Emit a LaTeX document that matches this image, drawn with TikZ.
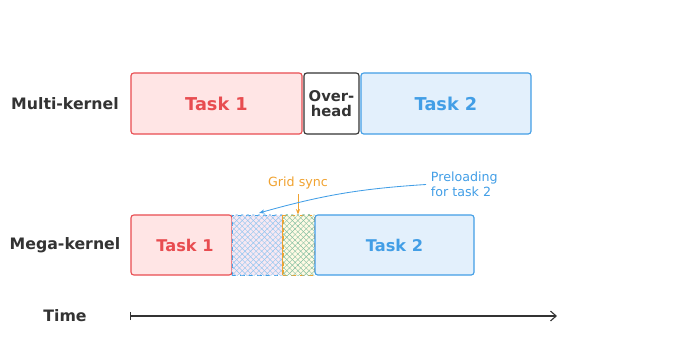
\documentclass[tikz,border=0pt]{standalone}
\usepackage{fontspec}
\setmainfont{DejaVu Sans}
\setsansfont{DejaVu Sans}
\usepackage{xcolor}
\usepackage{tikz}
\usetikzlibrary{arrows.meta, positioning, calc, patterns.meta}
\definecolor{taskred}{RGB}{232, 76, 80}
\definecolor{redfill}{RGB}{255, 229, 229}
\definecolor{taskblue}{RGB}{66, 158, 230}
\definecolor{bluefill}{RGB}{227, 240, 252}
\definecolor{darkgray}{RGB}{51, 51, 51}
\definecolor{syncorange}{RGB}{240, 162, 48}
\definecolor{hatchpink}{RGB}{248, 232, 242}
\definecolor{hatchyellow}{RGB}{255, 250, 228}
\definecolor{hatchgreen}{RGB}{130, 190, 160}

\begin{document}
\begin{tikzpicture}[
    x=0.025cm, y=-0.025cm,
    rowlabel/.style={
        font=\sffamily\bfseries\fontsize{11.2}{14}\selectfont,
        text=darkgray
    },
    box/.style={
        rectangle,
        rounded corners=2pt,
        line width=0.8pt,
        inner sep=0pt,
        align=center,
        font=\sffamily\bfseries\fontsize{12.6}{15}\selectfont
    },
    redbox/.style={
        box,
        draw=taskred,
        fill=redfill,
        text=taskred
    },
    bluebox/.style={
        box,
        draw=taskblue,
        fill=bluefill,
        text=taskblue
    },
    overbox/.style={
        box,
        draw=darkgray,
        fill=white,
        text=darkgray,
        font=\sffamily\bfseries\fontsize{10.5}{10.5}\selectfont
    },
    small/.style={
        font=\sffamily\bfseries\fontsize{11.5}{13}\selectfont
    },
    note/.style={
        font=\sffamily\fontsize{9}{10.5}\selectfont,
        align=left
    },
    arrow/.style={
        -{Stealth[length=4pt, width=3pt]},
        line width=0.6pt
    }
]
    \useasboundingbox (0,0) rectangle (680,357);

    % Row labels
    \node[rowlabel] (multi) at (65,104) {Multi-kernel};
    \node[rowlabel] (mega) at (65,245) {Mega-kernel};
    \node[rowlabel] (time) at (65,316) {Time};

    % Multi-kernel row
    \node[redbox, minimum width=4.275cm, minimum height=1.525cm] (mtask1) at (216.5,103.5) {Task 1};
    \node[overbox, minimum width=1.375cm, minimum height=1.525cm] (overhead) at (331.5,103.5) {Over-\\head};
    \node[bluebox, minimum width=4.25cm, minimum height=1.525cm] (mtask2) at (446,103.5) {Task 2};

    % Mega-kernel row
    \node[redbox, minimum width=2.525cm, minimum height=1.5cm] (gtask1) at (181.5,245) {};
    \node[small, text=taskred] (gtask1text) at (185,245) {Task 1};
    \node[rectangle, draw=taskblue, dashed, line width=0.6pt, fill=hatchpink,
          minimum width=1.275cm, minimum height=1.5cm] (preload) at (257.5,245) {};
    \fill[pattern={Lines[angle=45, distance=2.8pt, line width=0.3pt]}, pattern color=taskblue!60]
        (preload.south west) rectangle (preload.north east);
    \fill[pattern={Lines[angle=-45, distance=2.8pt, line width=0.3pt]}, pattern color=taskblue!60]
        (preload.south west) rectangle (preload.north east);
    \node[rectangle, draw=syncorange, dashed, line width=0.6pt, fill=hatchyellow,
          minimum width=0.775cm, minimum height=1.5cm] (sync) at (298.5,245) {};
    \fill[pattern={Lines[angle=45, distance=2.8pt, line width=0.3pt]}, pattern color=hatchgreen]
        (sync.south west) rectangle (sync.north east);
    \fill[pattern={Lines[angle=-45, distance=2.8pt, line width=0.3pt]}, pattern color=hatchgreen]
        (sync.south west) rectangle (sync.north east);
    \draw[syncorange, line width=0.8pt] (sync.north west) -- (sync.south west);
    \node[bluebox, small, minimum width=3.975cm, minimum height=1.5cm] (gtask2) at (394.5,245) {Task 2};

    % Annotations
    \node[note, text=syncorange] (synclabel) at (298,183) {Grid sync};
    \node[note, text=taskblue, anchor=west] (preloadlabel) at (426,184.5) {Preloading\\for task 2};
    \coordinate (preloadtip) at (259,213);

    % Arrows
    \draw[arrow, syncorange] (synclabel.south) -- (synclabel.south |- sync.north);
    \draw[arrow, taskblue] (preloadlabel.west) to[bend right=6] (preloadtip);

    % Time axis
    \coordinate (tstart) at (130,316);
    \coordinate (tend) at (557,316);
    \draw[{Bar[width=6pt]}-{Straight Barb[length=4pt, width=7pt]}, line width=0.8pt, darkgray] (tstart) -- (tend);

\end{tikzpicture}
\end{document}
